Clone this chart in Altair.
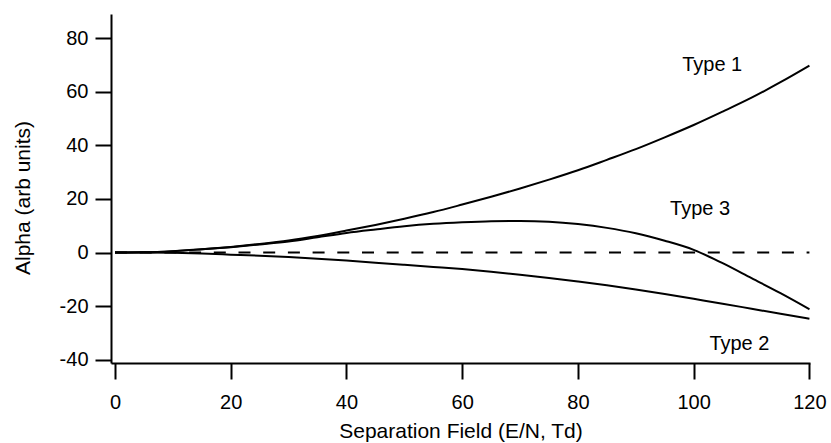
import altair as alt
import pandas as pd

# ---- data ----
field = [0, 5, 10, 15, 20, 25, 30, 35, 40, 45, 50, 55, 60, 65, 70, 75, 80, 85, 90, 95, 100, 105, 110, 115, 120]
type1 = [0, 0.1, 0.5, 1.2, 2.1, 3.2, 4.5, 6.2, 8.2, 10.3, 12.6, 15.1, 17.9, 20.8, 23.9, 27.2, 30.7, 34.6, 38.6, 43.0, 47.6, 52.6, 57.8, 63.6, 69.8]
type2 = [0, 0, -0.1, -0.4, -0.8, -1.2, -1.7, -2.3, -3.0, -3.8, -4.6, -5.4, -6.2, -7.2, -8.3, -9.5, -10.8, -12.2, -13.8, -15.5, -17.3, -19.1, -21.0, -22.9, -24.7]
type3 = [0, 0.1, 0.5, 1.2, 2.0, 3.0, 4.1, 5.7, 7.3, 8.6, 9.8, 10.7, 11.3, 11.7, 11.8, 11.5, 10.6, 9.2, 7.2, 4.4, 1.0, -4.0, -9.6, -15.2, -21.2]

series_names = ["Type 1", "Type 2", "Type 3"]

label_text = ["Type 1", "Type 3", "Type 2"]
label_x = [103.2, 101.1, 107.9]
label_y = [67.9, 14.0, -36.4]

zero_start = [0]
zero_end = [120]
zero_level = [0]

x_ticks = [0, 20, 40, 60, 80, 100, 120]
y_ticks = [-40, -20, 0, 20, 40, 60, 80]

# ---- tables ----
rows = []
for name, vals in zip(series_names, [type1, type2, type3]):
    for xv, yv in zip(field, vals):
        rows.append({"field": xv, "alpha": yv, "series": name})
df = pd.DataFrame(rows)
labels_df = pd.DataFrame({"text": label_text, "field": label_x, "alpha": label_y})
zero_df = pd.DataFrame({"field": zero_start, "field2": zero_end, "alpha": zero_level})

FONT = "Liberation Sans"

xscale = alt.Scale(domain=[-0.69, 120.1], nice=False, zero=False)
yscale = alt.Scale(domain=[-41.26, 89.06], nice=False, zero=False)

xaxis = alt.Axis(
    values=x_ticks, title="Separation Field (E/N, Td)",
    labelFlush=False, labelBaseline="alphabetic", labelPadding=29,
    titleY=74, titleBaseline="alphabetic",
)
yaxis = alt.Axis(
    values=y_ticks, title="Alpha (arb units)", labelExpr="'' + datum.value",
    labelPadding=7, titleX=-88, titleY=183.5, titleAngle=270,
    titleAlign="center", titleBaseline="middle",
)

lines = alt.Chart(df).mark_line(color="black", strokeWidth=2, interpolate="monotone").encode(
    x=alt.X("field:Q", scale=xscale, axis=xaxis),
    y=alt.Y("alpha:Q", scale=yscale, axis=yaxis),
    detail="series:N",
)

zero = alt.Chart(zero_df).mark_rule(color="black", strokeWidth=2, strokeDash=[12, 12.7]).encode(
    x=alt.X("field:Q", scale=xscale),
    x2="field2:Q",
    y=alt.Y("alpha:Q", scale=yscale),
)

texts = alt.Chart(labels_df).mark_text(
    align="center", baseline="alphabetic", fontSize=20, font=FONT, color="black"
).encode(
    x=alt.X("field:Q", scale=xscale),
    y=alt.Y("alpha:Q", scale=yscale),
    text="text:N",
)

chart = alt.layer(zero, lines, texts).properties(
    width=699, height=349,
    autosize=alt.AutoSizeParams(type="none"),
    padding={"left": 111, "top": 14, "right": 21, "bottom": 80},
    background="white",
).configure_view(stroke=None).configure_axis(
    grid=False, domainColor="black", domainWidth=2, tickColor="black", tickWidth=2,
    tickSize=16, labelFont=FONT, labelFontSize=20, labelColor="black",
    titleFont=FONT, titleFontSize=21, titleFontWeight="normal", titleColor="black",
)

chart.save("out.html", embed_options={"renderer": "svg", "actions": False})
